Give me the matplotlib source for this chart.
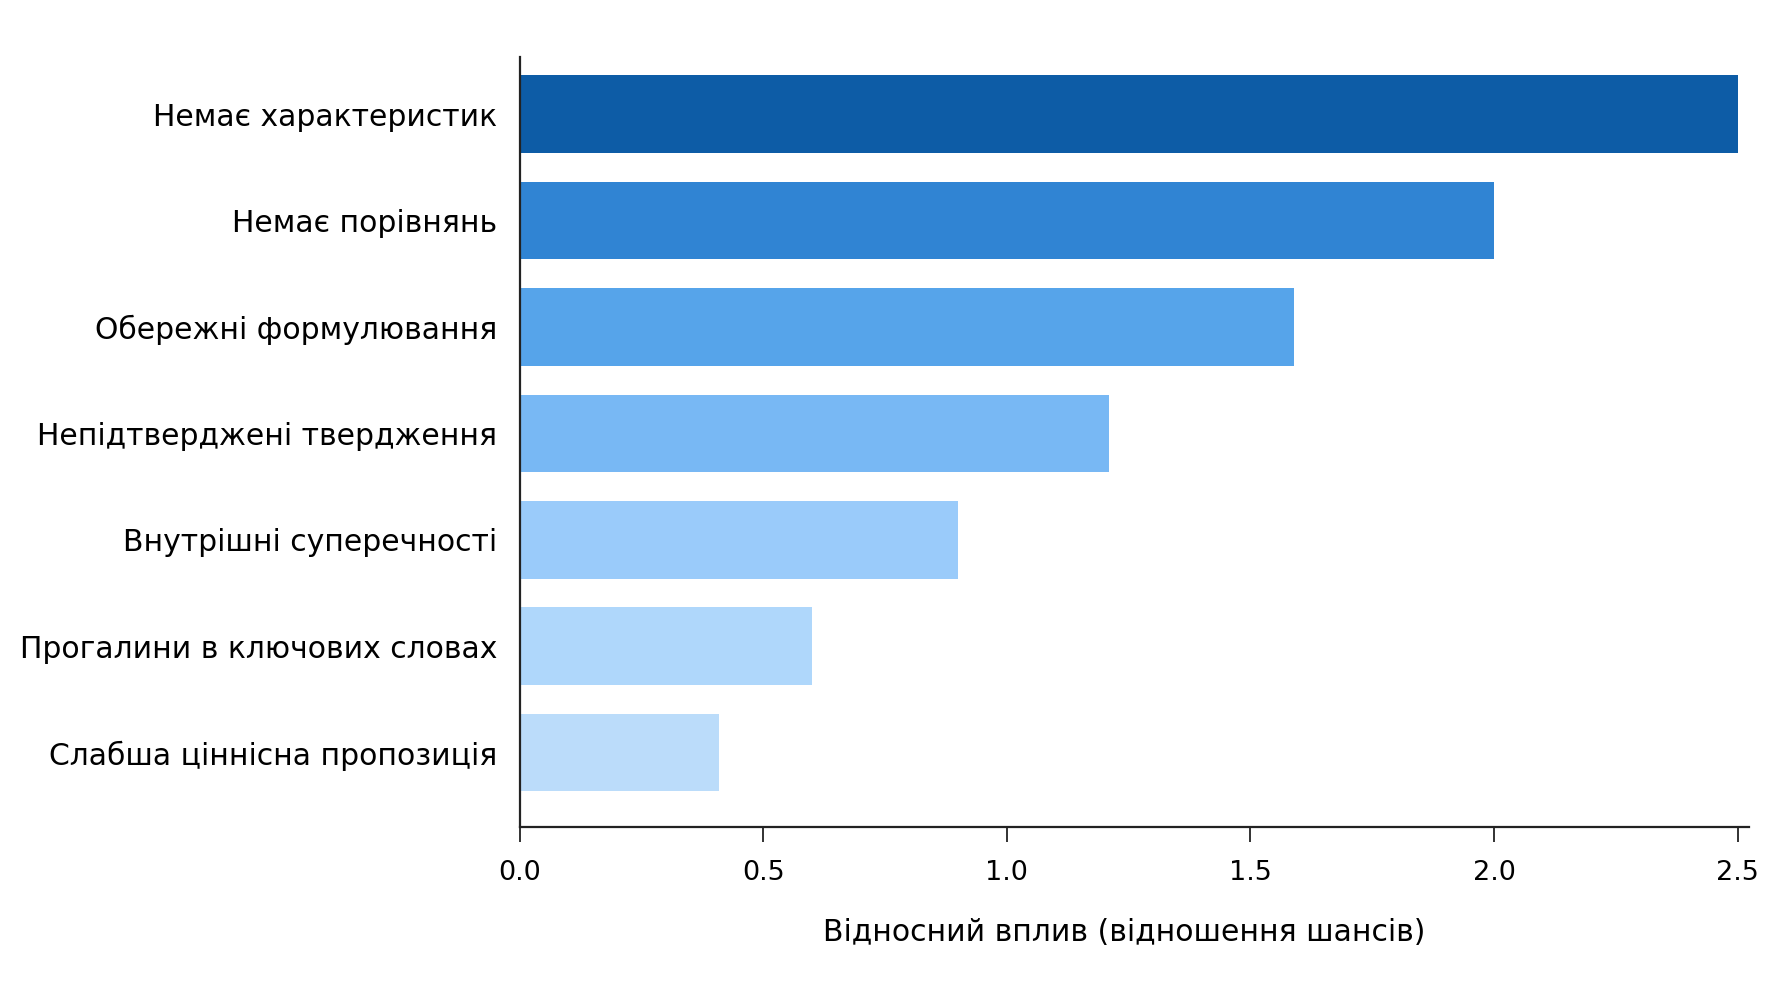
import matplotlib
matplotlib.use("Agg")
import matplotlib.pyplot as plt

categories = [
    "Немає характеристик",
    "Немає порівнянь",
    "Обережні формулювання",
    "Непідтверджені твердження",
    "Внутрішні суперечності",
    "Прогалини в ключових словах",
    "Слабша ціннісна пропозиція",
]
values = [2.5, 2.0, 1.59, 1.21, 0.9, 0.6, 0.41]
colors = ["#0d5ca6", "#3084d3", "#56a4ea", "#78b8f4", "#9acbfa", "#afd7fb", "#bbdcfa"]
xticks = [0.0, 0.5, 1.0, 1.5, 2.0, 2.5]
xlabel = "Відносний вплив (відношення шансів)"

plt.rcParams['font.family'] = ['DejaVu Sans']
fig = plt.figure(figsize=(17.92, 10.08), dpi=100)
ax = fig.add_axes([0.290, 0.1796, 0.686, 0.764])

ypos = list(range(len(categories)))
ax.barh(ypos, values, height=0.73, color=colors)
ax.set_yticks(ypos)
ax.set_yticklabels(categories, fontsize=21.5)
ax.set_ylim(6.70, -0.54)
ax.set_xlim(0, 2.5235)
ax.set_xticks(xticks)
ax.set_xticklabels([f"{t:.1f}" for t in xticks], fontsize=19.5)
ax.set_xlabel(xlabel, fontsize=21.5)
ax.xaxis.set_label_coords(0.492, -0.118)

for s in ["top", "right"]:
    ax.spines[s].set_visible(False)
for s in ["left", "bottom"]:
    ax.spines[s].set_linewidth(1.6)
    ax.spines[s].set_color("#222222")
ax.tick_params(axis='y', length=0, pad=16)
ax.tick_params(axis='x', length=11, width=1.3, pad=13, color="#222222")

fig.savefig("out.png", dpi=100, facecolor="white")
